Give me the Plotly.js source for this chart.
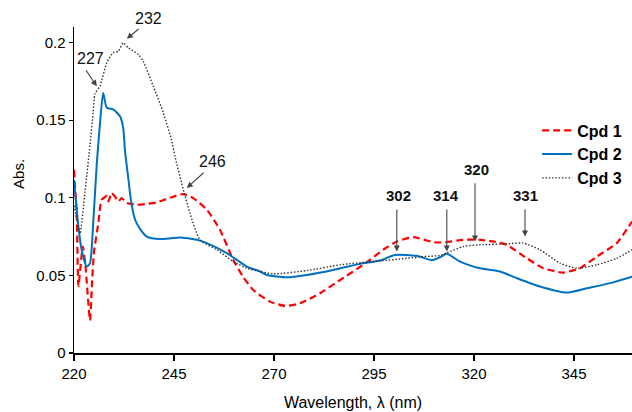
<!DOCTYPE html>
<html>
<head>
<meta charset="utf-8">
<script src="https://cdn.plot.ly/plotly-3.0.1.min.js"></script>
<style>html,body{margin:0;padding:0;background:#fff;}#chart{width:632px;height:412px;}</style>
</head>
<body>
<div id="chart"></div>
<script>
// Wavelength (nm) and absorbance values
const cpd1X = [220,220.7,221.1,222.2,222.8,224.0,224.5,225.0,226.1,226.9,228.2,228.6,229.4,230.2,231.1,231.9,233.2,235.7,238,240.7,244,247.3,249.8,253.2,256.5,259.8,262.3,264.8,269,272.75,276.5,281.5,286.5,292.3,297.3,300.7,304.8,309.8,312.3,317.3,321.5,325,328.2,333.2,337.3,342.3,346.5,350.7,355.7,359.5];
const cpd1Y = [0.118,0.088,0.043,0.0686,0.058,0.021,0.045,0.065,0.084,0.0987,0.101,0.0976,0.103,0.101,0.0976,0.0998,0.0966,0.0955,0.096,0.097,0.100,0.1024,0.0998,0.0923,0.0794,0.060,0.049,0.0406,0.0331,0.0303,0.032,0.0385,0.047,0.0568,0.0665,0.0718,0.0746,0.0714,0.0712,0.0729,0.0729,0.0718,0.0697,0.061,0.0546,0.0518,0.0546,0.0621,0.0708,0.0847];

const cpd2X = [220,221.1,221.9,223.2,224,224.8,225.7,226.5,227.3,228.2,229.8,231.5,232.3,232.75,233.6,234.2,235.25,236.5,238.2,241.5,244,246.5,250.7,253.2,258.2,263.2,266.5,268.2,273.2,278.2,284.8,291.5,296.5,300.25,305.7,309.5,311.5,313.2,316.5,321.5,326.5,330.7,336.5,343.2,348.2,354,359.5];
const cpd2Y = [0.1116,0.0815,0.0665,0.0557,0.0579,0.0837,0.122,0.148,0.1675,0.158,0.157,0.1525,0.145,0.13,0.112,0.099,0.086,0.080,0.075,0.0734,0.0738,0.0744,0.0729,0.0708,0.0643,0.0557,0.0525,0.0503,0.0488,0.0503,0.0535,0.0574,0.0596,0.0632,0.0626,0.0598,0.0617,0.0639,0.0589,0.0546,0.0525,0.0482,0.0428,0.0389,0.0417,0.045,0.0492];

const cpd3X = [220,220.8,221.5,222.75,224,224.8,225.25,226.5,228.2,229.8,231.1,232.3,233.6,236.1,237.3,239.8,242.3,244.4,245.25,246.9,249,251.5,255.7,259.8,263.2,266.5,269.8,278.2,286.5,294.8,303.2,307.3,311.5,313.2,317.3,321.5,328.2,332.3,336.5,341.5,345.7,350.7,355.7,359.5];
const cpd3Y = [0.095,0.085,0.077,0.104,0.134,0.155,0.167,0.172,0.187,0.1935,0.1944,0.1998,0.1966,0.1923,0.188,0.172,0.155,0.137,0.1266,0.1095,0.090,0.0729,0.0665,0.059,0.0546,0.0525,0.051,0.0531,0.0568,0.0589,0.061,0.0621,0.0628,0.0645,0.0686,0.0697,0.0703,0.0708,0.0665,0.0579,0.0546,0.0568,0.061,0.0665];

const seriesNames = ['Cpd 1','Cpd 2','Cpd 3'];
const xTicks = [220,245,270,295,320,345];
const yTicks = [0,0.05,0.1,0.15,0.2];
const yTickText = ['0','0.05','0.1','0.15','0.2'];
const yMax = 0.21;

// Peak labels: text, arrow tip (wavelength, abs), label position (wavelength, abs)
const peakLabels = ['227','232','246','302','314','320','331'];
const peakTipX = [225.7,233.2,248.2,300.7,313.2,320.25,332.75];
const peakTipY = [0.1718,0.2024,0.1063,0.0654,0.0654,0.0718,0.075];
const peakTextX = [224,238.5,254.5,301,313,320.5,332.75];
const peakTextY = [0.190,0.2155,0.1232,0.1013,0.1013,0.118,0.1013];

const arrowAx = [-11.7,13.3,18.3,0,0,0,0];
const arrowAy = [-17.4,-11,-16.6,-43.4,-43.4,-59.7,-28.7];
const bold = [false,false,false,true,true,true,true];
const fsz = [16,16,16,15,15,15,15];

const traces = [
  {x: cpd1X, y: cpd1Y, name: '<b>'+seriesNames[0]+'</b>', mode: 'lines',
   line: {color: '#ff0000', width: 2.2, dash: '7px,4px', shape: 'spline', smoothing: 0.5}},
  {x: cpd2X, y: cpd2Y, name: '<b>'+seriesNames[1]+'</b>', mode: 'lines',
   line: {color: '#0070c0', width: 2, shape: 'spline', smoothing: 0.6}},
  {x: cpd3X, y: cpd3Y, name: '<b>'+seriesNames[2]+'</b>', mode: 'lines',
   line: {color: '#333333', width: 1.4, dash: '1.5px,1.8px', shape: 'spline', smoothing: 0.6}}
];

const annotations = [];
for (let i = 0; i < peakLabels.length; i++) {
  annotations.push({x: peakTipX[i], y: peakTipY[i], xref: 'x', yref: 'y', text: '',
    showarrow: true, ax: arrowAx[i], ay: arrowAy[i], arrowhead: 2, arrowsize: 1.1,
    arrowwidth: 1.1, arrowcolor: '#444'});
  annotations.push({x: peakTextX[i], y: peakTextY[i] / yMax, xref: 'x', yref: 'paper',
    text: bold[i] ? '<b>'+peakLabels[i]+'</b>' : peakLabels[i], showarrow: false,
    font: {size: fsz[i], color: '#111'}, xanchor: 'center', yanchor: 'middle'});
}
annotations.push({x: -0.1, y: 0.55, xref: 'paper', yref: 'paper', text: 'Abs.', textangle: -90,
  showarrow: false, font: {size: 15, color: '#000'}, xanchor: 'center', yanchor: 'middle'});

const layout = {
  width: 632, height: 412,
  margin: {l: 74, r: 0, t: 27, b: 59},
  paper_bgcolor: '#fff', plot_bgcolor: '#fff',
  font: {family: 'Liberation Sans, Arial, sans-serif', size: 15, color: '#000'},
  showlegend: true,
  legend: {x: 0.83, y: 0.735, xanchor: 'left', yanchor: 'top', bgcolor: 'rgba(0,0,0,0)',
    font: {size: 16, color: '#000'}, itemwidth: 30, tracegroupgap: 0},
  xaxis: {range: [220, 359.5], tickvals: xTicks, ticks: 'outside', ticklen: 6, tickwidth: 1.2,
    tickcolor: '#000', showline: true, linecolor: '#000', linewidth: 1.5, showgrid: false,
    zeroline: false, tickfont: {size: 15},
    title: {text: 'Wavelength, λ (nm)', font: {size: 16}, standoff: 16}},
  yaxis: {range: [0, yMax], tickvals: yTicks, ticktext: yTickText, ticks: 'outside', ticklen: 4,
    tickwidth: 1.2, tickcolor: '#000', showline: true, linecolor: '#000', linewidth: 1.5,
    showgrid: false, zeroline: false, tickfont: {size: 15}},
  annotations: annotations
};

Plotly.newPlot('chart', traces, layout, {displayModeBar: false, staticPlot: true});
</script>
</body>
</html>
